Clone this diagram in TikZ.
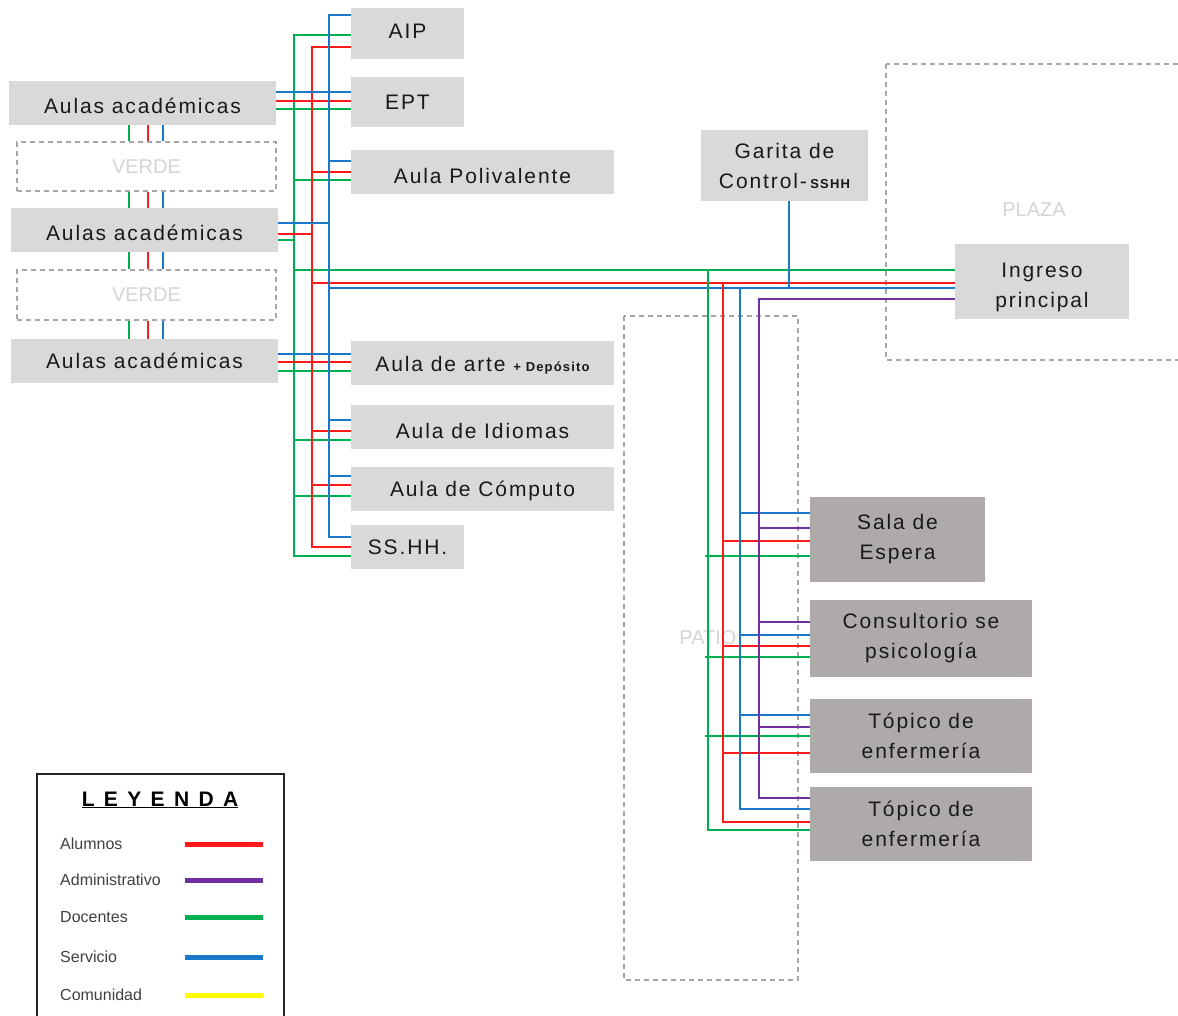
\documentclass[tikz,border=0pt]{standalone}
\usepackage{fontspec}
\setmainfont{Liberation Sans}
\newfontfamily\roomfont[LetterSpace=9]{Liberation Sans}
\usetikzlibrary{positioning}

\definecolor{alured}{HTML}{FF1A1A}
\definecolor{admpurple}{HTML}{7030A0}
\definecolor{docgreen}{HTML}{00B050}
\definecolor{serblue}{HTML}{1A78C8}
\definecolor{comyellow}{HTML}{FFFF00}
\definecolor{roomgray}{HTML}{D9D9D9}
\definecolor{clinicgray}{HTML}{AEAAAA}
\definecolor{zonegray}{HTML}{A6A6A6}
\definecolor{zonetext}{HTML}{D4D4D4}

\tikzset{
  room/.style={fill=roomgray, inner sep=0pt, align=center, text=black!90,
    font=\roomfont\fontsize{21}{30}\selectfont},
  clinic/.style={room, fill=clinicgray},
  zone/.style={draw=zonegray, line width=1.2pt, dash pattern=on 5pt off 4pt},
  zonename/.style={text=zonetext, inner sep=0pt, font=\fontsize{20}{24}\selectfont},
  alumnos/.style={draw=alured, line width=1.6pt},
  admin/.style={draw=admpurple, line width=1.6pt},
  docentes/.style={draw=docgreen, line width=1.6pt},
  servicio/.style={draw=serblue, line width=1.6pt},
  comunidad/.style={draw=comyellow, line width=1.6pt},
  keytext/.style={anchor=west, inner sep=0pt, text=black!75, font=\fontsize{16}{18}\selectfont}
}
\newcommand{\smallnote}[1]{{\fontsize{13}{15}\selectfont\bfseries #1}}
% move a label down inside its box
\newcommand{\sink}[2]{\raisebox{-#1pt}[\height][\depth]{#2}}

\begin{document}
\begin{tikzpicture}[x=1pt, y=-1pt]
\useasboundingbox (0,0) rectangle (1178,1016);

% open areas
\node[zone, zonename, minimum width=259, minimum height=49] (verde1) at (146.5,166.5) {VERDE};
\node[zone, zonename, minimum width=259, minimum height=50] (verde2) at (146.5,295) {VERDE};
\draw[zone] (886,64) rectangle (1195,360);
\node[zonename] (plaza) at (1034,210) {PLAZA};
\draw[zone] (624,316) rectangle (798,980);
\node[zonename] (patio) at (708,638) {PATIO};

% trunk positions
\coordinate (gT) at (294,0);
\coordinate (rT) at (312,0);
\coordinate (bT) at (329,0);
\coordinate (gR) at (708,0);
\coordinate (rR) at (723,0);
\coordinate (bR) at (740,0);
\coordinate (pR) at (759,0);
\coordinate (gatedrop) at (789,288);

% classroom block
\node[room, minimum width=267, minimum height=44] (aula1) at (142.5,103) {\sink{3}{Aulas académicas}};
\node[room, minimum width=267, minimum height=44] (aula2) at (144.5,230) {\sink{3}{Aulas académicas}};
\node[room, minimum width=267, minimum height=44] (aula3) at (144.5,361) {Aulas académicas};

\node[room, minimum width=113, minimum height=51] (aip) at (407.5,33.5) {\sink{-2}{AIP}};
\node[room, minimum width=113, minimum height=50] (ept) at (407.5,102) {EPT};
\node[room, minimum width=263, minimum height=44] (poli) at (482.5,172) {\sink{4}{Aula Polivalente}};
\node[room, minimum width=263, minimum height=44] (arte) at (482.5,363) {\sink{2}{Aula de arte \smallnote{+ Depósito}}};
\node[room, minimum width=263, minimum height=44] (idiomas) at (482.5,427) {\sink{4}{Aula de Idiomas}};
\node[room, minimum width=263, minimum height=44] (computo) at (482.5,489) {\sink{2}{Aula de Cómputo}};
\node[room, minimum width=113, minimum height=44] (sshh) at (407.5,547) {SS.HH.};

% entrance
\node[room, minimum width=167, minimum height=71] (garita) at (784.5,165.5) {Garita de\\Control-\,\smallnote{SSHH}};
\node[room, minimum width=174, minimum height=75] (ingreso) at (1042,281.5)
  {\sink{5}{\begin{tabular}{@{}c@{}}Ingreso\\principal\end{tabular}}};

% health block
\node[clinic, minimum width=175, minimum height=85] (sala) at (897.5,539.5) {Sala de\\Espera};
\node[clinic, minimum width=222, minimum height=77] (consulta) at (921,638.5) {Consultorio se\\psicología};
\node[clinic, minimum width=222, minimum height=74] (topico1) at (921,736) {Tópico de\\enfermería};
\node[clinic, minimum width=222, minimum height=74] (topico2) at (921,824) {Tópico de\\enfermería};

% links between the classroom blocks
\foreach \sty/\x in {docentes/129, alumnos/148, servicio/163} {
  \draw[\sty] (\x,0 |- aula1.south) -- (\x,0 |- verde1.north);
  \draw[\sty] (\x,0 |- verde1.south) -- (\x,0 |- aula2.north);
  \draw[\sty] (\x,0 |- aula2.south) -- (\x,0 |- verde2.north);
  \draw[\sty] (\x,0 |- verde2.south) -- (\x,0 |- aula3.north);
}

% docentes, left
\draw[docentes] (aip.west |- 0,35) -| (gT |- 0,556) -- (sshh.west |- 0,556);
\foreach \target/\y in {poli/180, idiomas/440, computo/496}
  \draw[docentes] (gT |- 0,\y) -- (\target.west |- 0,\y);
\draw[docentes] (aula1.east |- 0,109) -- (ept.west |- 0,109);
\draw[docentes] (aula3.east |- 0,371) -- (arte.west |- 0,371);
\draw[docentes] (aula2.east |- 0,240) -- (gT |- 0,240);
\draw[docentes] (gT |- 0,270) -- (ingreso.west |- 0,270);

% alumnos, left
\draw[alumnos] (aip.west |- 0,47) -| (rT |- 0,547) -- (sshh.west |- 0,547);
\foreach \target/\y in {poli/172, idiomas/431, computo/485}
  \draw[alumnos] (rT |- 0,\y) -- (\target.west |- 0,\y);
\draw[alumnos] (aula1.east |- 0,101) -- (ept.west |- 0,101);
\draw[alumnos] (aula3.east |- 0,362) -- (arte.west |- 0,362);
\draw[alumnos] (aula2.east |- 0,234) -- (rT |- 0,234);
\draw[alumnos] (rT |- 0,283) -- (ingreso.west |- 0,283);

% servicio, left
\draw[servicio] (aip.west |- 0,15) -| (bT |- 0,537) -- (sshh.west |- 0,537);
\foreach \target/\y in {poli/161, idiomas/420, computo/476}
  \draw[servicio] (bT |- 0,\y) -- (\target.west |- 0,\y);
\draw[servicio] (aula1.east |- 0,92) -- (ept.west |- 0,92);
\draw[servicio] (aula3.east |- 0,354) -- (arte.west |- 0,354);
\draw[servicio] (aula2.east |- 0,223) -- (bT |- 0,223);
\draw[servicio] (bT |- 0,288) -- (ingreso.west |- 0,288);
\draw[servicio] (garita.south -| gatedrop) -- (gatedrop);

% health block feeders
\draw[docentes] (gR |- 0,270) |- (topico2.west |- 0,830);
\foreach \target/\y in {sala/556, consulta/657, topico1/736}
  \draw[docentes] (705,\y) -- (\target.west |- 0,\y);
\draw[alumnos] (rR |- 0,283) |- (topico2.west |- 0,822);
\foreach \target/\y in {sala/541, consulta/646, topico1/753}
  \draw[alumnos] (rR |- 0,\y) -- (\target.west |- 0,\y);
\draw[servicio] (bR |- 0,288) |- (topico2.west |- 0,809);
\foreach \target/\y in {sala/513, consulta/635, topico1/715}
  \draw[servicio] (bR |- 0,\y) -- (\target.west |- 0,\y);
\draw[admin] (ingreso.west |- 0,299) -| (pR |- 0,798) -- (topico2.west |- 0,798);
\foreach \target/\y in {sala/528, consulta/622, topico1/727}
  \draw[admin] (pR |- 0,\y) -- (\target.west |- 0,\y);

% legend
\draw[line width=1.8pt, black!85] (37,1030) |- (284,774) -- (284,1030);
\node[inner sep=0pt, font=\bfseries\fontsize{21}{24}\selectfont] (leyenda) at (160,800)
  {\underline{L\, E\, Y\, E\, N\, D\, A}};
\foreach \name/\sty/\y in {Alumnos/alumnos/844, Administrativo/admin/880,
    Docentes/docentes/917, Servicio/servicio/957, Comunidad/comunidad/995} {
  \node[keytext] (key-\sty) at (60,\y) {\name};
  \draw[\sty, line width=5pt] (185,\y) -- (263,\y);
}
\end{tikzpicture}
\end{document}
